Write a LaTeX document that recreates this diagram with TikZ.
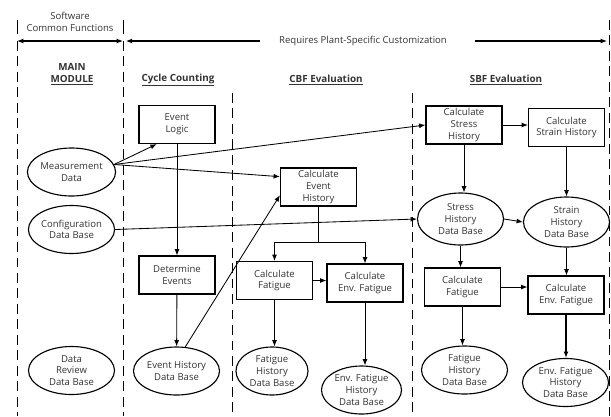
\documentclass[tikz,border=0pt]{standalone}
\usepackage{fontspec}
\setmainfont{Open Sans}
\usetikzlibrary{arrows.meta,shapes.geometric}

\begin{document}
\begin{tikzpicture}[x=0.025cm, y=-0.025cm, >={Latex[length=4.5pt,width=3.5pt]},
	every node/.style={font=\fontsize{6.8}{8.3}\selectfont, text=black!80},
	box/.style={draw, line width=0.8pt, minimum width=19mm, minimum height=9.5mm, align=center, inner sep=1pt},
	db/.style={draw, ellipse, line width=0.8pt, minimum width=21.5mm, minimum height=12mm, align=center, inner sep=0pt},
	hdr/.style={font=\fontsize{7}{8.5}\selectfont\bfseries, align=center},
	lane/.style={dash pattern=on 7pt off 4pt, line width=0.7pt},
	flow/.style={->, line width=0.6pt}]
	\useasboundingbox (0,0) rectangle (611,416);
	% header
	\node[align=center] (sw) at (70,22) {Software\\Common Functions};
	\node (req) at (363,41) {Requires Plant-Specific Customization};
	\coordinate (swL) at (17,41);
	\coordinate (swR) at (123,41);
	\coordinate (reqL) at (260,41);
	\coordinate (reqR) at (475,41);
	\coordinate (endR) at (607,41);
	\draw[line width=0.7pt] (17,20) -- (17,34);
	\draw[line width=0.7pt] (123,20) -- (123,34);
	\draw[<->, line width=0.8pt] (swL) -- (swR);
	\draw[->, line width=0.8pt] (reqL) -- ([xshift=2pt]swR);
	\draw[->, line width=0.8pt] (reqR) -- (endR);
	\foreach \x/\y in {17/41, 123/41, 232/93, 412/93, 609/20}
		\draw[lane] (\x,\y) -- (\x,416);
	\node[hdr] (hmain) at (72,74) {MAIN\\\underline{MODULE}};
	\node[hdr] (hcyc) at (178,80) {\underline{Cycle Counting}};
	\node[hdr] (hcbf) at (326,80) {\underline{CBF Evaluation}};
	\node[hdr] (hsbf) at (506,80) {\underline{SBF Evaluation}};
	% main module
	\node[db] (meas) at (71.5,172) {Measurement\\Data};
	\node[db] (conf) at (71.5,229.5) {Configuration\\Data Base};
	\node[db] (revdb) at (71.5,370.5) {Data\\Review\\Data Base};
	% cycle counting
	\node[box] (evlog) at (177,124.5) {Event\\Logic};
	\node[box] (detev) at (177,275) {Determine\\Events};
	\node[db] (evhdb) at (176.5,371) {Event History\\Data Base};
	% CBF
	\node[box] (cevh) at (318.5,187) {Calculate\\Event\\History};
	\node[box] (cfat) at (274.5,280.5) {Calculate\\Fatigue};
	\node[box] (cenv) at (365,283) {Calculate\\Env. Fatigue};
	\node[db, minimum width=18mm] (fatdb) at (272,371) {Fatigue\\History\\Data Base};
	\node[db, minimum width=20mm] (envdb) at (361.5,390) {Env. Fatigue\\History\\Data Base};
	% SBF
	\node[box] (cstr) at (464,125) {Calculate\\Stress\\History};
	\node[box] (cstn) at (566.5,127.5) {Calculate\\Strain History};
	\node[db, minimum height=13mm] (strdb) at (460.5,219) {Stress\\History\\Data Base};
	\node[db, minimum height=12.5mm] (stndb) at (566.5,222) {Strain\\History\\Data Base};
	\node[box] (sfat) at (462.5,287) {Calculate\\Fatigue};
	\node[box] (senv) at (566,295) {Calculate\\Env. Fatigue};
	\node[db] (sfatdb) at (464.5,370) {Fatigue\\History\\Data Base};
	\node[db] (senvdb) at (565.5,382.5) {Env. Fatigue\\History\\Data Base};
	% connectors
	\draw[flow] (meas.10) -- (evlog.224);
	\draw[flow] (meas.10) -- (cstr.west);
	\draw[flow] (meas.10) -- (cevh.165);
	\draw[flow] (conf.east) -- (strdb.west);
	\draw[flow] (evlog) -- (detev);
	\draw[flow] (detev) -- (evhdb);
	\draw[flow] (evhdb.70) -- (cevh.192);
	\draw[line width=0.6pt] (cevh.south) -- ++(0,36) coordinate (split);
	\draw[flow] (split) -| (cfat.north);
	\draw[flow] (split) -| (cenv.north);
	\draw[flow] (cfat.east) -- (cfat.east -| cenv.west);
	\draw[flow] (cfat.south) -- (cfat.south |- fatdb.north);
	\draw[flow] (cenv.south) -- (cenv.south |- envdb.north);
	\draw[flow] (cstr.east) -- (cstr.east -| cstn.west);
	\draw[flow] (cstr.south) -- (cstr.south |- strdb.north);
	\draw[flow] (cstn.south) -- (cstn.south |- stndb.north);
	\draw[flow] (strdb.east) -- (stndb.west);
	\draw[flow] (strdb.south) -- (strdb.south |- sfat.north);
	\draw[flow] (stndb.south) -- (stndb.south |- senv.north);
	\draw[flow] (sfat.east) -- (sfat.east -| senv.west);
	\draw[flow] (sfat.south) -- (sfat.south |- sfatdb.north);
	\draw[flow, line width=1.2pt] (senv.south) -- (senv.south |- senvdb.north);
\end{tikzpicture}
\end{document}
